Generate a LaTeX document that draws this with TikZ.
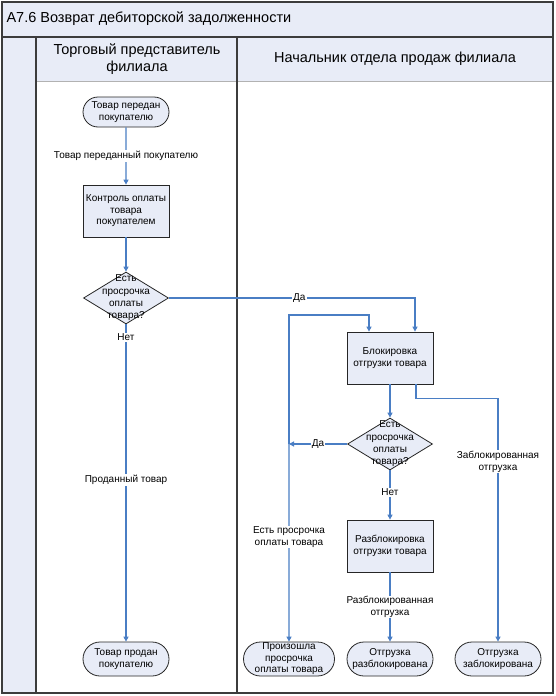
\documentclass[tikz,border=0pt]{standalone}
\usepackage{fontspec}
\setmainfont{Liberation Sans}
\usetikzlibrary{arrows.meta,shapes.geometric,shapes.misc}
\definecolor{lane}{RGB}{232,236,247}
\definecolor{flowblue}{RGB}{74,126,196}
\definecolor{framegray}{RGB}{60,60,60}
\begin{document}
\begin{tikzpicture}[x=1pt,y=-1pt,
  txt/.style={align=center,font=\fontsize{10}{11.5}\selectfont},
  term/.style={txt,rounded rectangle,draw=black!85,fill=lane,line width=.8pt,minimum width=86pt,minimum height=34pt,inner sep=0pt},
  proc/.style={txt,rectangle,draw=black!85,fill=lane,line width=.8pt,minimum width=86pt,minimum height=52pt,inner sep=0pt},
  decision/.style={diamond,draw=black!85,fill=lane,line width=.8pt,minimum width=85pt,minimum height=52pt,inner sep=0pt},
  dtxt/.style={align=center,font=\fontsize{10}{12.3}\selectfont},
  flow/.style={draw=flowblue,line width=1.1pt,-{Triangle[length=5pt,width=5pt]}},
  lbl/.style={txt,fill=white,inner sep=1pt,text=black},
  head/.style={align=center,font=\fontsize{14.5}{16.5}\selectfont}]
\useasboundingbox (0,0) rectangle (556,696);

\fill[lane] (2,2) rectangle (553,693);
\fill[white] (37,81) rectangle (553,693);
\draw[gray!60,line width=.8pt] (37,81) -- (553,81);
\draw[framegray,line width=1.5pt] (2,37) -- (553,37) (36,37) -- (36,693) (237,37) -- (237,693);
\draw[framegray,line width=1.5pt] (2,2) rectangle (553,693);

\node[head,anchor=west] (title) at (3,19) {А7.6 Возврат дебиторской задолженности};
\node[head] (lane1) at (137,59) {Торговый представитель\\филиала};
\node[head] (lane2) at (395,59) {Начальник отдела продаж филиала};

\node[term,minimum height=30pt] (S) at (126,112) {Товар передан\\покупателю};
\node[proc] (K) at (126,211) {Контроль оплаты\\товара\\покупателем};
\node[decision,label={[dtxt]center:Есть\\просрочка\\оплаты\\товара?}] (D1) at (126,298) {};
\node[term] (T1) at (126,659) {Товар продан\\покупателю};
\node[proc] (B) at (390,358) {Блокировка\\отгрузки товара};
\node[decision,label={[dtxt]center:Есть\\просрочка\\оплаты\\товара?}] (D2) at (390,444) {};
\node[proc] (R) at (390,546) {Разблокировка\\отгрузки товара};
\node[term] (T2) at (289,659) {Произошла\\просрочка\\оплаты товара};
\node[term] (T3) at (390,659) {Отгрузка\\разблокирована};
\node[term] (T4) at (498,659) {Отгрузка\\заблокирована};
\coordinate (J) at (289,444);
\coordinate (L) at (289,315);

\draw[flow] (S) -- node[lbl]{Товар переданный покупателю} (K);
\draw[flow] (K) -- (D1);
\draw[flow] (D1) -- node[lbl,pos=.04]{Нет} node[lbl,pos=.49]{Проданный товар} (T1);
\draw[flow] (D1.east) -| node[lbl,pos=.265]{Да} ([xshift=25pt]B.north);
\draw[flow] (B) -- (D2);
\draw[flow] (D2.west) -- node[lbl]{Да} (J);
\draw[flow] (J) -- (L) -| ([xshift=-21pt]B.north);
\draw[flow] (J) -- node[lbl,pos=.47]{Есть просрочка\\оплаты товара} (T2);
\draw[flow] (D2) -- node[lbl,pos=.44]{Нет} (R);
\draw[flow] (R) -- node[lbl]{Разблокированная\\отгрузка} (T3);
\draw[flow] ([xshift=26pt]B.south) -- ++(0,14) -| node[lbl,pos=.63]{Заблокированная\\отгрузка} (T4);

\end{tikzpicture}
\end{document}
